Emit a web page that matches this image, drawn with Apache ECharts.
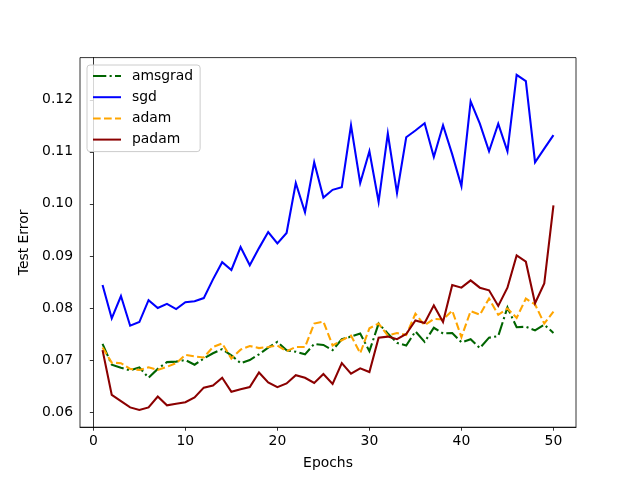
<!DOCTYPE html>
<html>
<head>
<meta charset="utf-8">
<script src="https://cdn.jsdelivr.net/npm/echarts@6/dist/echarts.min.js"></script>
<style>
html,body{margin:0;padding:0;background:#fff;}
#c{width:640px;height:480px;}
</style>
</head>
<body>
<div id="c"></div>
<script>
var epochs = [1,2,3,4,5,6,7,8,9,10,11,12,13,14,15,16,17,18,19,20,21,22,23,24,25,26,27,28,29,30,31,32,33,34,35,36,37,38,39,40,41,42,43,44,45,46,47,48,49,50];
var amsgrad = [0.0731,0.0691,0.0685,0.0680,0.0686,0.0666,0.0683,0.0696,0.0697,0.0700,0.0691,0.0703,0.0713,0.0721,0.0709,0.0694,0.0700,0.0711,0.0724,0.0735,0.0719,0.0716,0.0711,0.0731,0.0729,0.0719,0.0740,0.0745,0.0751,0.0717,0.0770,0.0751,0.0733,0.0728,0.0755,0.0735,0.0762,0.0751,0.0752,0.0734,0.0740,0.0723,0.0743,0.0746,0.0801,0.0763,0.0764,0.0757,0.0768,0.0752];
var sgd = [0.0844,0.0780,0.0823,0.0766,0.0773,0.0815,0.0800,0.0808,0.0798,0.0811,0.0813,0.0819,0.0855,0.0888,0.0873,0.0917,0.0882,0.0915,0.0946,0.0924,0.0944,0.1040,0.0984,0.1080,0.1012,0.1027,0.1032,0.1151,0.1040,0.1101,0.1004,0.1135,0.1021,0.1128,0.1141,0.1155,0.1090,0.1151,0.1095,0.1034,0.1197,0.1154,0.1101,0.1154,0.1101,0.1248,0.1236,0.1080,0.1106,0.1132];
var adam = [0.0724,0.0695,0.0694,0.0683,0.0681,0.0686,0.0681,0.0687,0.0694,0.0710,0.0707,0.0705,0.0725,0.0732,0.0703,0.0720,0.0727,0.0723,0.0725,0.0728,0.0717,0.0725,0.0725,0.0770,0.0774,0.0728,0.0738,0.0747,0.0713,0.0761,0.0770,0.0747,0.0752,0.0748,0.0789,0.0767,0.0779,0.0778,0.0795,0.0744,0.0794,0.0787,0.0818,0.0787,0.0799,0.0781,0.0818,0.0807,0.0770,0.0793];
var padam = [0.0719,0.0633,0.0621,0.0609,0.0604,0.0609,0.0630,0.0613,0.0616,0.0619,0.0628,0.0647,0.0651,0.0666,0.0639,0.0644,0.0648,0.0676,0.0657,0.0648,0.0655,0.0671,0.0666,0.0656,0.0673,0.0654,0.0694,0.0674,0.0684,0.0677,0.0743,0.0745,0.0740,0.0750,0.0776,0.0771,0.0805,0.0773,0.0844,0.0839,0.0853,0.0839,0.0834,0.0804,0.0839,0.0901,0.0889,0.0809,0.0847,0.0997];
var xTicks = [0,10,20,30,40,50];
var yTicks = [0.06,0.07,0.08,0.09,0.10,0.11,0.12];

function pairs(vals){ return epochs.map(function(e,i){ return [e, vals[i]]; }); }

var FONT = 'DejaVu Sans';
var LW = 2.08;
function mk(name, vals, color, type){
  return {
    name: name, type: 'line', data: pairs(vals), symbol: 'none', showSymbol: false,
    lineStyle: {color: color, width: LW, type: type, cap: 'butt', join: 'miter'},
    itemStyle: {color: color}, animation: false, emphasis: {disabled: true}
  };
}

var chart = echarts.init(document.getElementById('c'), null, {renderer: 'canvas'});
chart.setOption({
  animation: false,
  backgroundColor: '#ffffff',
  textStyle: {fontFamily: FONT},
  grid: {left: 80, right: 64, top: 57.6, bottom: 52.8, show: true, borderColor: '#000', borderWidth: 0.8, backgroundColor: 'transparent'},
  legend: {
    orient: 'vertical', left: 87, top: 65,
    data: ['amsgrad','sgd','adam','padam'],
    itemWidth: 28, itemHeight: 14, itemGap: 7.2,
    padding: [4, 7, 5, 5],
    itemStyle: {opacity: 0},
    backgroundColor: 'rgba(255,255,255,0.8)', borderColor: '#cccccc', borderWidth: 1, borderRadius: 3,
    textStyle: {fontFamily: FONT, fontSize: 13.9, color: '#000', padding: [0,0,0,6]},
    selectedMode: false
  },
  xAxis: {
    type: 'value', min: -1.45, max: 52.45,
    name: 'Epochs', nameLocation: 'middle', nameGap: 29,
    nameTextStyle: {fontFamily: FONT, fontSize: 13.9, color: '#000'},
    axisLine: {show: true, lineStyle: {color: '#000', width: 0.8}},
    axisTick: {show: true, length: 3.5, lineStyle: {color: '#000', width: 0.8}, customValues: xTicks},
    axisLabel: {customValues: xTicks, margin: 7, fontFamily: FONT, fontSize: 13.9, color: '#000'},
    splitLine: {show: false}
  },
  yAxis: {
    type: 'value', min: 0.0571, max: 0.1281,
    name: 'Test Error', nameLocation: 'middle', nameGap: 43,
    nameTextStyle: {fontFamily: FONT, fontSize: 13.9, color: '#000'},
    axisLine: {show: true, lineStyle: {color: '#000', width: 0.8}},
    axisTick: {show: true, length: 3.5, lineStyle: {color: '#000', width: 0.8}, customValues: yTicks},
    axisLabel: {customValues: yTicks, margin: 7, fontFamily: FONT, fontSize: 13.9, color: '#000',
      formatter: function(v){ return v.toFixed(2); }},
    splitLine: {show: false}
  },
  series: [
    mk('amsgrad', amsgrad, '#006400', [13.3, 3.3, 2.1, 3.3]),
    mk('sgd', sgd, '#0000ff', 'solid'),
    mk('adam', adam, '#ffa500', [7.7, 3.3]),
    mk('padam', padam, '#8b0000', 'solid')
  ]
});
</script>
</body>
</html>
